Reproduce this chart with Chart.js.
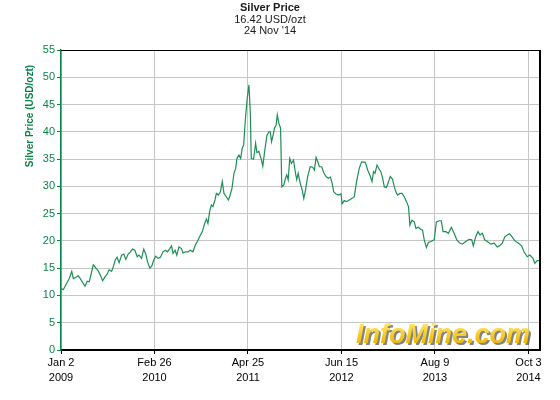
<!DOCTYPE html>
<html>
<head>
<meta charset="utf-8">
<script src="https://cdn.jsdelivr.net/npm/chart.js@4.4.1/dist/chart.umd.min.js"></script>
<style>
  html, body { margin: 0; padding: 0; background: #fff; }
  #wrap { width: 560px; height: 400px; }
</style>
</head>
<body>
<div id="wrap"><canvas id="grafico"></canvas></div>
<script>
// weeks since Jan 2 2009, silver price in USD/ozt
const weeks = [
  0, 1.5, 3.6, 5.3, 6.9, 7.9, 9.4, 11.1, 12.6, 14.3,
  15.4, 16.8, 18.1, 19.2, 20.7, 22.4, 23.9, 25.4, 26.7, 28.2,
  29.6, 30.9, 32.5, 33.5, 34.8, 36.0, 37.3, 38.9, 40.3, 41.6,
  43.1, 44.6, 45.9, 47.4, 48.9, 50.1, 51.7, 53.1, 54.4, 55.5,
  57.0, 58.3, 59.5, 60.8, 62.3, 63.8, 65.5, 67.0, 68.3, 69.8,
  70.9, 71.9, 73.2, 74.3, 75.7, 77.3, 78.3, 80.0, 81.5, 83.0,
  84.7, 86.2, 87.5, 89.0, 90.7, 92.2, 93.3, 94.3, 95.4, 96.5,
  97.5, 98.8, 99.7, 101.0, 102.3, 103.5, 104.6, 106.1, 107.4, 108.2,
  109.7, 111.0, 112.1, 112.9, 114.2, 115.3, 116.3, 117.2, 118.3, 119.5,
  120.6, 121.5, 122.1, 123.6, 124.9, 125.7, 127.0, 128.5, 129.5, 130.8,
  132.1, 133.4, 134.3, 135.1, 136.2, 137.0, 138.1, 138.8, 139.8, 140.9,
  141.7, 143.0, 144.1, 144.9, 145.8, 146.8, 147.9, 149.2, 150.5, 151.3,
  152.2, 153.5, 154.8, 155.8, 156.9, 158.3, 159.9, 161.5, 162.6, 163.7,
  164.8, 165.8, 167.3, 168.6, 170.1, 171.6, 172.9, 174.0, 175.0, 176.5,
  178.2, 179.7, 180.4, 181.8, 183.3, 185.0, 186.8, 188.2, 189.7, 191.4,
  192.9, 195.3, 196.8, 198.3, 199.6, 200.6, 201.5, 202.8, 204.3, 205.3,
  206.4, 207.5, 208.9, 210.2, 211.3, 212.8, 213.9, 214.9, 216.0, 217.5,
  218.8, 220.3, 221.7, 223.0, 223.9, 225.2, 226.7, 227.8, 229.4, 231.0,
  232.0, 233.1, 234.5, 235.8, 237.4, 239.5, 240.9, 242.7, 244.0, 245.2,
  247.0, 248.6, 250.5, 252.3, 254.0, 255.9, 257.6, 259.8, 261.9, 263.6,
  264.6, 266.2, 267.6, 268.9, 270.4, 271.9, 273.6, 275.8, 277.9, 280.0,
  281.5, 283.2, 284.9, 286.4, 287.9, 289.6, 291.3, 293.4, 295.6, 297.1,
  299.2, 300.9, 302.9, 304.1, 305.6, 307.4
];
const prices = [
  11.2, 11.1, 12.2, 13.1, 14.4, 13.1, 13.3, 13.6, 13.0, 12.2,
  11.7, 12.6, 12.5, 13.75, 15.6, 15.0, 14.5, 13.6, 12.7, 13.4,
  13.9, 14.7, 14.4, 15.2, 16.5, 17.0, 16.0, 17.4, 17.6, 16.6,
  17.6, 18.0, 18.5, 18.3, 17.1, 17.4, 16.8, 18.5, 17.6, 16.2,
  15.0, 15.4, 16.5, 17.2, 16.8, 17.0, 18.0, 18.3, 18.0, 18.6,
  19.1, 17.7, 18.3, 17.4, 18.9, 18.6, 17.8, 18.0, 18.0, 18.3,
  18.0, 19.25, 19.9, 20.8, 21.7, 23.2, 24.0, 23.2, 25.4, 26.6,
  26.3, 27.5, 28.7, 28.4, 29.0, 30.9, 28.7, 28.1, 27.5, 28.1,
  29.6, 32.4, 33.3, 35.1, 35.75, 35.1, 37.0, 37.6, 42.2, 46.1,
  48.6, 43.4, 35.1, 35.0, 37.9, 36.2, 36.4, 35.0, 33.7, 36.6,
  39.3, 40.0, 40.0, 38.2, 39.5, 40.7, 41.25, 43.1, 41.6, 40.7,
  29.9, 30.25, 31.5, 32.1, 31.2, 35.1, 34.2, 34.8, 32.4, 31.2,
  32.4, 30.6, 29.3, 27.8, 29.3, 31.8, 33.6, 33.5, 33.0, 35.3,
  34.5, 33.6, 33.6, 32.5, 31.8, 31.5, 31.7, 30.6, 29.0, 28.6,
  28.4, 28.6, 26.8, 27.4, 27.2, 27.5, 27.8, 28.1, 30.9, 33.3,
  34.5, 34.4, 33.0, 32.0, 30.9, 32.7, 32.4, 33.9, 33.1, 32.7,
  31.5, 29.9, 29.8, 30.9, 31.8, 31.3, 29.9, 29.0, 28.4, 28.7,
  28.7, 28.1, 27.2, 26.3, 22.9, 23.8, 23.5, 22.3, 22.5, 22.1,
  22.0, 20.2, 18.8, 19.7, 19.9, 20.2, 23.5, 23.7, 23.7, 21.7,
  21.7, 21.4, 22.5, 21.4, 20.2, 19.6, 19.4, 19.9, 20.3, 20.2,
  19.1, 20.8, 21.7, 21.1, 21.4, 20.2, 19.9, 19.4, 19.6, 18.9,
  19.1, 19.6, 20.8, 21.1, 21.3, 20.7, 20.0, 19.6, 19.1, 18.0,
  17.1, 17.4, 16.8, 15.9, 16.4, 16.4
];

const tickWeeks = [0, 60, 120, 180, 240, 300];
const tickLabels = [
  ["Jan 2", "2009"], ["Feb 26", "2010"], ["Apr 25", "2011"],
  ["Jun 15", "2012"], ["Aug 9", "2013"], ["Oct 3", "2014"]
];
const lastWeek = 307.4; // Nov 24 2014
const yTicks = [0, 5, 10, 15, 20, 25, 30, 35, 40, 45, 50, 55];

const verde = "#0a8548";
const linha = "#1d8f55";
const grade = "#c6c6c6";

Chart.defaults.font.family = "'Liberation Sans', Arial, sans-serif";
Chart.defaults.font.size = 11;

const moldura = {
  id: "moldura",
  afterDraw(chart) {
    const c = chart.ctx;
    const a = chart.chartArea;
    c.save();
    // top and right frame
    c.strokeStyle = "#000";
    c.lineWidth = 1;
    c.beginPath();
    c.moveTo(a.left, a.top + 0.5);
    c.lineTo(a.right, a.top + 0.5);
    c.stroke();
    c.lineWidth = 2;
    c.beginPath();
    c.moveTo(a.right, a.top);
    c.lineTo(a.right, a.bottom);
    c.stroke();

    // y axis title
    c.translate(30, a.top + 66);
    c.rotate(-Math.PI / 2);
    c.fillStyle = verde;
    c.font = "bold 10px 'Liberation Sans', Arial, sans-serif";
    c.textAlign = "center";
    c.textBaseline = "middle";
    c.fillText("Silver Price (USD/ozt)", 0, 0);
    c.restore();

    // watermark
    c.save();
    c.font = "italic bold 27px 'Liberation Sans', Arial, sans-serif";
    c.textAlign = "right";
    c.textBaseline = "alphabetic";
    const bx = a.right - 10, by = a.bottom - 7;
    c.fillStyle = "rgba(90,90,90,0.75)";
    c.fillText("InfoMine.com", bx + 2, by + 2);
    const g = c.createLinearGradient(0, by - 20, 0, by);
    g.addColorStop(0, "#ffe766");
    g.addColorStop(1, "#f2b800");
    c.fillStyle = g;
    c.fillText("InfoMine.com", bx, by);
    c.restore();
  }
};

const ctx = document.getElementById("grafico");

new Chart(ctx, {
  type: "line",
  data: {
    datasets: [
      {
        label: "Silver Price",
        data: weeks.map((w, i) => ({ x: w, y: prices[i] })),
        borderColor: linha,
        borderWidth: 1.2,
        pointRadius: 0,
        tension: 0,
        fill: false,
      },
    ],
  },
  options: {
    responsive: true,
    maintainAspectRatio: false,
    animation: false,
    layout: {
      padding: { left: 0, right: 20, top: 0, bottom: 0 },
    },
    plugins: {
      legend: { display: false },
      tooltip: { enabled: false },
      title: {
        display: true,
        text: "Silver Price",
        color: "#1a1a1a",
        font: { size: 11, weight: "bold", lineHeight: "12px" },
        padding: { top: 2, bottom: 0 },
      },
      subtitle: {
        display: true,
        text: ["16.42 USD/ozt", "24 Nov '14"],
        color: "#1a1a1a",
        font: { size: 11, lineHeight: "11.5px" },
        padding: { top: 0, bottom: 13 },
      },
    },
    scales: {
      x: {
        type: "linear",
        min: 0,
        max: lastWeek,
        afterBuildTicks: (s) => {
          s.ticks = tickWeeks.map((v) => ({ value: v }));
        },
        afterFit: (s) => {
          s.height = 50;
        },
        ticks: {
          color: "#000",
          padding: 1,
          maxRotation: 0,
          autoSkip: false,
          font: { size: 11, lineHeight: "15px" },
          callback: (v) => tickLabels[tickWeeks.indexOf(v)],
        },
        grid: {
          color: grade,
          tickColor: "#000",
          tickLength: 4,
        },
        border: { color: "#000", width: 2 },
      },
      y: {
        min: 0,
        max: 55,
        afterBuildTicks: (s) => {
          s.ticks = yTicks.map((v) => ({ value: v }));
        },
        afterFit: (s) => {
          s.width = 61;
        },
        ticks: {
          color: verde,
          padding: 2,
          font: { size: 11 },
        },
        grid: {
          color: grade,
          tickColor: verde,
          tickLength: 4,
        },
        border: { color: verde, width: 1.5 },
      },
    },
  },
  plugins: [moldura],
});
</script>
</body>
</html>
